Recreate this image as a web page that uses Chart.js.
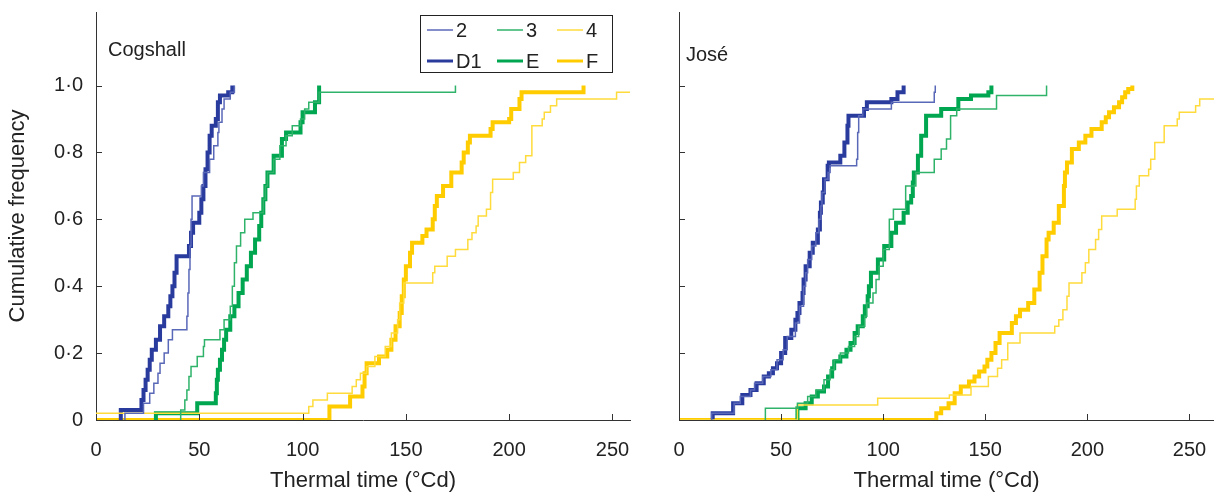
<!DOCTYPE html>
<html>
<head>
<meta charset="utf-8">
<script src="https://cdn.jsdelivr.net/npm/chart.js@4.4.0/dist/chart.umd.min.js"></script>
<style>
  body { margin: 0; background: #fff; }
  #cogshall { position: absolute; left: 0; top: 0; }
  #jose { position: absolute; left: 640px; top: 0; }
</style>
</head>
<body>
<canvas id="cogshall" width="640" height="492"></canvas>
<canvas id="jose" width="574" height="492"></canvas>
<script>
// cumulative frequency vs thermal time (°Cd)

// ---- Cogshall ----
const cog2X = [14, 14, 23, 26, 28, 30, 31, 33, 35, 37, 44, 44.5, 45, 45.5, 46, 46.5, 51, 52, 55, 57, 59, 59.5, 61, 62, 65, 67];
const cog2Y = [0, 0.02, 0.05, 0.08, 0.11, 0.14, 0.17, 0.20, 0.24, 0.27, 0.31, 0.38, 0.45, 0.52, 0.60, 0.67, 0.70, 0.74, 0.78, 0.82, 0.86, 0.89, 0.93, 0.96, 0.98, 1.0];
const cog3X = [41, 41, 43, 44, 45, 46, 49, 52, 52.5, 60, 62, 65, 66, 67, 68, 70, 72, 76, 81, 82, 83, 86, 89, 92, 95, 99, 101, 103, 108, 174];
const cog3Y = [0, 0.03, 0.06, 0.09, 0.13, 0.16, 0.19, 0.22, 0.24, 0.27, 0.30, 0.34, 0.40, 0.47, 0.52, 0.56, 0.60, 0.62, 0.66, 0.70, 0.74, 0.78, 0.82, 0.85, 0.88, 0.90, 0.93, 0.95, 0.98, 1.0];
const cog4X = [0, 0, 103, 105, 112, 124, 126, 128, 131, 135, 140, 143, 146, 147, 149, 163, 164, 170, 174, 180, 182, 184, 185, 189, 191, 192, 202, 205, 208, 211, 216, 217, 220, 223, 252, 260];
const cog4Y = [0, 0.02, 0.04, 0.06, 0.08, 0.10, 0.12, 0.14, 0.16, 0.19, 0.22, 0.26, 0.30, 0.35, 0.41, 0.44, 0.46, 0.49, 0.51, 0.54, 0.56, 0.58, 0.61, 0.63, 0.68, 0.72, 0.74, 0.77, 0.79, 0.88, 0.90, 0.92, 0.94, 0.96, 0.98, 0.98];
const cogD1X = [12, 12, 22, 23, 24, 25, 26, 27, 29, 31, 33, 35, 36, 37, 38, 39, 45, 46, 47, 50, 51, 52, 53, 54, 55, 56, 58, 59, 60, 64, 66];
const cogD1Y = [0, 0.03, 0.06, 0.09, 0.12, 0.15, 0.18, 0.21, 0.24, 0.28, 0.31, 0.34, 0.37, 0.40, 0.44, 0.49, 0.52, 0.56, 0.59, 0.62, 0.66, 0.70, 0.75, 0.80, 0.85, 0.88, 0.90, 0.95, 0.97, 0.98, 1.0];
const cogEX = [29, 29, 49, 58, 58.5, 59, 60, 61, 62, 63, 65, 67, 69, 71, 73, 75, 77, 79, 80, 81, 82, 83, 86, 90, 92, 99, 100, 106, 108];
const cogEY = [0, 0.02, 0.05, 0.08, 0.12, 0.15, 0.18, 0.21, 0.24, 0.27, 0.31, 0.34, 0.38, 0.42, 0.46, 0.50, 0.54, 0.58, 0.62, 0.66, 0.70, 0.74, 0.79, 0.84, 0.86, 0.89, 0.92, 0.95, 1.0];
const cogFX = [0, 113, 123, 129, 130, 131, 137, 141, 143, 145, 147, 148, 149, 150, 152, 153, 158, 160, 163, 164, 165, 168, 172, 177, 178, 180, 181, 191, 192, 200, 201, 205, 206, 236];
const cogFY = [0, 0.04, 0.07, 0.10, 0.14, 0.17, 0.19, 0.21, 0.24, 0.28, 0.32, 0.37, 0.42, 0.46, 0.50, 0.53, 0.55, 0.57, 0.60, 0.64, 0.67, 0.70, 0.74, 0.77, 0.80, 0.83, 0.85, 0.87, 0.89, 0.90, 0.93, 0.96, 0.98, 1.0];

// ---- José ----
const jose2X = [16, 16, 27, 30, 35, 37, 41, 45, 48, 51, 53, 57, 59, 61, 62, 63, 65, 67, 68.5, 69.5, 70, 71.5, 73, 74, 87, 87.5, 88, 90, 104, 125, 125.5];
const jose2Y = [0, 0.02, 0.05, 0.07, 0.09, 0.11, 0.13, 0.15, 0.18, 0.21, 0.25, 0.29, 0.34, 0.40, 0.44, 0.48, 0.52, 0.56, 0.60, 0.64, 0.68, 0.72, 0.74, 0.76, 0.78, 0.86, 0.91, 0.93, 0.95, 0.98, 1.0];
const jose3X = [42.3, 42.3, 58, 63, 67, 71, 74, 76, 79, 83, 86, 88, 91, 92, 95, 96.5, 98, 100, 103, 105, 111, 116, 125, 128.4, 131, 133, 136, 155.5, 180];
const jose3Y = [0, 0.035, 0.05, 0.07, 0.09, 0.12, 0.15, 0.18, 0.20, 0.22, 0.25, 0.28, 0.31, 0.35, 0.38, 0.42, 0.46, 0.51, 0.60, 0.63, 0.70, 0.74, 0.78, 0.81, 0.84, 0.91, 0.93, 0.97, 1.0];
const jose4X = [0, 58, 97.3, 132.4, 143, 151.5, 156, 158, 161, 167, 184, 186, 188, 190, 191, 197.3, 199, 200.7, 204, 205.5, 207, 214.6, 223.4, 224, 225.4, 230, 231, 233, 237.6, 244, 245, 253, 255, 263];
const jose4Y = [0, 0.045, 0.065, 0.075, 0.10, 0.13, 0.155, 0.18, 0.23, 0.26, 0.28, 0.30, 0.33, 0.37, 0.41, 0.44, 0.47, 0.51, 0.54, 0.57, 0.61, 0.63, 0.66, 0.70, 0.73, 0.75, 0.78, 0.83, 0.88, 0.90, 0.92, 0.94, 0.96, 0.96];
const joseD1X = [16.5, 16.5, 26.5, 31, 35, 38, 41.5, 44, 46, 48, 50, 52, 55, 57, 58, 59, 60.5, 61, 62, 64, 65.5, 68, 69, 69.5, 70.4, 71, 72.8, 73.4, 79, 81, 82.5, 83, 90.6, 92, 104, 107, 110];
const joseD1Y = [0, 0.02, 0.05, 0.075, 0.09, 0.11, 0.13, 0.14, 0.155, 0.17, 0.20, 0.245, 0.27, 0.30, 0.32, 0.35, 0.38, 0.42, 0.46, 0.50, 0.53, 0.57, 0.62, 0.65, 0.68, 0.72, 0.76, 0.77, 0.79, 0.83, 0.88, 0.91, 0.93, 0.95, 0.96, 0.98, 1.0];
const joseEX = [58, 58, 62, 65, 68, 71, 73, 75, 76, 79, 82, 84, 86, 87.5, 90, 91, 92.4, 93, 94, 97.4, 100.5, 104, 106.3, 110, 112, 113.7, 114.5, 115, 117, 118.6, 121, 128.4, 136.8, 143, 151.5, 153];
const joseEY = [0, 0.035, 0.05, 0.07, 0.085, 0.10, 0.13, 0.155, 0.175, 0.19, 0.21, 0.23, 0.26, 0.28, 0.31, 0.34, 0.37, 0.40, 0.44, 0.48, 0.52, 0.56, 0.59, 0.62, 0.65, 0.67, 0.71, 0.74, 0.79, 0.85, 0.91, 0.93, 0.96, 0.97, 0.98, 1.0];
const joseFX = [0, 126, 128.4, 132, 135, 138, 142, 144.7, 147, 149.6, 151, 153, 155, 157, 163, 165, 167, 171, 174, 176.6, 178, 180, 181, 183.5, 186, 188.5, 189, 190, 192.4, 195.8, 199, 202, 207, 209, 210.6, 213, 215.5, 217, 218.5, 220, 222];
const joseFY = [0, 0.02, 0.035, 0.05, 0.08, 0.10, 0.115, 0.13, 0.145, 0.16, 0.18, 0.20, 0.23, 0.26, 0.29, 0.31, 0.33, 0.35, 0.39, 0.44, 0.49, 0.54, 0.56, 0.59, 0.64, 0.70, 0.74, 0.77, 0.81, 0.83, 0.85, 0.87, 0.89, 0.905, 0.92, 0.935, 0.95, 0.965, 0.98, 0.99, 1.0];

const seriesLabels = ["2", "3", "4", "D1", "E", "F"];
const xTicks = [0, 50, 100, 150, 200, 250];
const yTicks = [0, 0.2, 0.4, 0.6, 0.8, 1.0];

// styles for the six series (thin lines first, thick lines after)
const seriesColors = ["#5a68b8", "#2fb36a", "#ffdc3c", "#2a3b9e", "#00a650", "#ffcc00"];
const seriesWidths = [1.5, 1.5, 1.5, 4, 4, 4];

const FONT = "'Liberation Sans', Arial, sans-serif";

function toPoints(xs, ys) {
  return xs.map((x, i) => ({ x: x, y: ys[i] }));
}

function buildDatasets(pairs) {
  return pairs.map((p, i) => ({
    label: seriesLabels[i],
    data: toPoints(p[0], p[1]),
    borderColor: seriesColors[i],
    borderWidth: seriesWidths[i],
    stepped: "before",
    pointRadius: 0,
    fill: false,
    tension: 0
  }));
}

// ========== Plugins ==========

// short tick marks pointing into the plot
const inwardTicks = {
  id: "inwardTicks",
  afterDatasetsDraw(chart) {
    const { ctx, chartArea } = chart;
    const x = chart.scales.x, y = chart.scales.y;
    ctx.save();
    ctx.strokeStyle = "#333";
    ctx.lineWidth = 1;
    ctx.beginPath();
    xTicks.forEach(v => {
      const px = Math.round(x.getPixelForValue(v)) + 0.5;
      ctx.moveTo(px, chartArea.bottom);
      ctx.lineTo(px, chartArea.bottom - 6);
    });
    yTicks.forEach(v => {
      const py = Math.round(y.getPixelForValue(v)) + 0.5;
      ctx.moveTo(chartArea.left, py);
      ctx.lineTo(chartArea.left + 6, py);
    });
    ctx.stroke();
    ctx.restore();
  }
};

// site name inside the panel
const panelLabel = {
  id: "panelLabel",
  afterDraw(chart, args, opts) {
    const { ctx, chartArea } = chart;
    ctx.save();
    ctx.fillStyle = "#222";
    ctx.font = "20px " + FONT;
    ctx.textBaseline = "middle";
    ctx.fillText(opts.text, chartArea.left + opts.dx, chartArea.top + opts.dy);
    ctx.restore();
  }
};

// boxed legend, 3 columns x 2 rows
const boxLegend = {
  id: "boxLegend",
  afterDraw(chart, args, opts) {
    if (!opts.show) return;
    const { ctx } = chart;
    const box = { x: 420, y: 15, w: 192, h: 57 };
    ctx.save();
    ctx.strokeStyle = "#222";
    ctx.lineWidth = 1;
    ctx.strokeRect(box.x + 0.5, box.y + 0.5, box.w, box.h);
    ctx.font = "20px " + FONT;
    ctx.fillStyle = "#222";
    ctx.textBaseline = "middle";
    const colX = [7, 77, 137];
    const rowY = [15, 46];
    chart.data.datasets.forEach((ds, i) => {
      const col = i % 3, row = Math.floor(i / 3);
      const lx = box.x + colX[col];
      const ly = box.y + rowY[row];
      ctx.strokeStyle = ds.borderColor;
      ctx.lineWidth = Math.min(ds.borderWidth, 3);
      ctx.beginPath();
      ctx.moveTo(lx, ly);
      ctx.lineTo(lx + 26, ly);
      ctx.stroke();
      ctx.fillText(ds.label, lx + 29, ly + 1);
    });
    ctx.restore();
  }
};

function makeChart(canvasId, pairs, cfg) {
  return new Chart(document.getElementById(canvasId), {
    type: "line",
    data: { datasets: buildDatasets(pairs) },
    options: {
      responsive: false,
      animation: false,
      layout: { padding: { top: 12, right: cfg.padRight, left: 0, bottom: 0 } },
      plugins: {
        legend: { display: false },
        tooltip: { enabled: false },
        panelLabel: { text: cfg.name, dx: cfg.labelDx, dy: cfg.labelDy },
        boxLegend: { show: cfg.legend }
      },
      scales: {
        x: {
          type: "linear",
          min: 0,
          max: cfg.xMax,
          afterBuildTicks: s => { s.ticks = xTicks.map(v => ({ value: v })); },
          afterFit: s => { s.height = 72; s.paddingLeft = 0; s.paddingRight = 0; },
          grid: { drawOnChartArea: false, drawTicks: false },
          border: { display: true, color: "#333", width: 1 },
          ticks: {
            padding: 18,
            color: "#222",
            font: { family: FONT, size: 20 },
            callback: v => String(v)
          },
          title: {
            display: true,
            text: "Thermal time (°Cd)",
            color: "#222",
            font: { family: FONT, size: 22, lineHeight: 1 },
            padding: { top: 0, bottom: 0 }
          }
        },
        y: {
          type: "linear",
          min: 0,
          max: 1.22,
          afterBuildTicks: s => { s.ticks = yTicks.map(v => ({ value: v })); },
          afterFit: s => { s.width = cfg.yWidth; s.paddingTop = 0; s.paddingBottom = 0; },
          grid: { drawOnChartArea: false, drawTicks: false },
          border: { display: true, color: "#333", width: 1 },
          ticks: {
            display: cfg.yLabels,
            padding: 13,
            color: "#222",
            font: { family: FONT, size: 20 },
            callback: v => (v === 0 ? "0" : v.toFixed(1).replace(".", "\u00b7"))
          },
          title: {
            display: cfg.yLabels,
            text: "Cumulative frequency",
            color: "#222",
            font: { family: FONT, size: 22, lineHeight: 1 },
            padding: { top: 7, bottom: 0 }
          }
        }
      }
    },
    plugins: [inwardTicks, panelLabel, boxLegend]
  });
}

makeChart("cogshall",
  [[cog2X, cog2Y], [cog3X, cog3Y], [cog4X, cog4Y], [cogD1X, cogD1Y], [cogEX, cogEY], [cogFX, cogFY]],
  { name: "Cogshall", xMax: 258.5, padRight: 10, yWidth: 96, yLabels: true, legend: true, labelDx: 12, labelDy: 38 });

makeChart("jose",
  [[jose2X, jose2Y], [jose3X, jose3Y], [jose4X, jose4Y], [joseD1X, joseD1Y], [joseEX, joseEY], [joseFX, joseFY]],
  { name: "José", xMax: 262, padRight: 0, yWidth: 39, yLabels: false, legend: false, labelDx: 7, labelDy: 43 });
</script>
</body>
</html>
